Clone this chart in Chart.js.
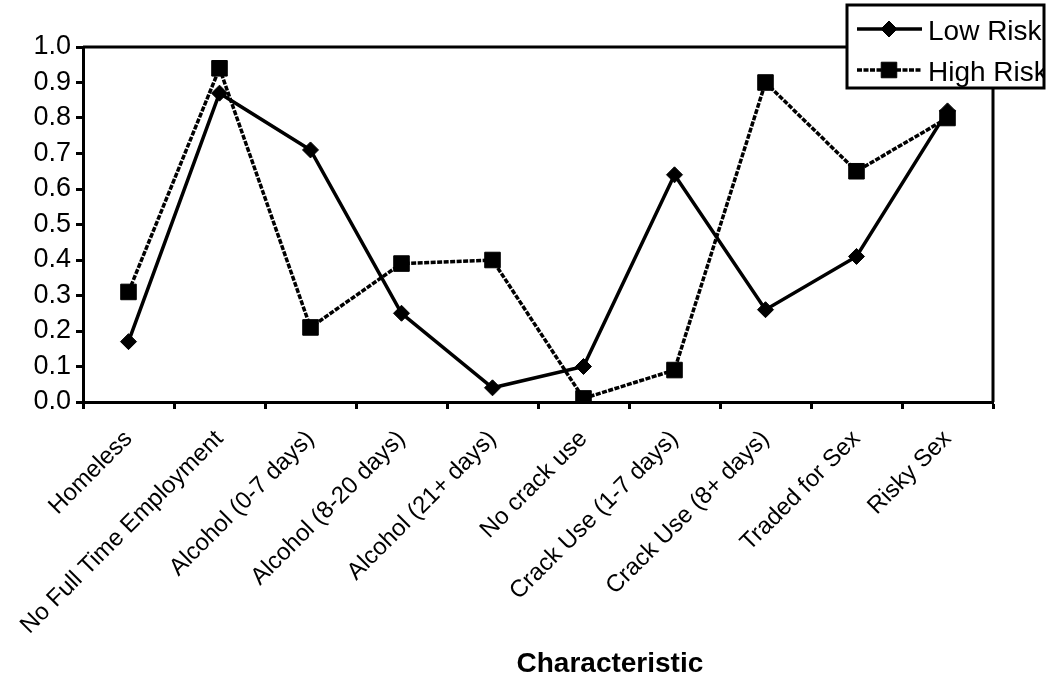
<!DOCTYPE html>
<html>
<head>
<meta charset="utf-8">
<script src="https://cdn.jsdelivr.net/npm/chart.js@4/dist/chart.umd.min.js"></script>
<style>
  html, body { margin: 0; padding: 0; background: #fff; }
  #wrap { position: relative; width: 1050px; height: 682px; }
</style>
</head>
<body>
<div id="wrap"><canvas id="c" width="1050" height="682"></canvas></div>
<script>
const categories = [
  "Homeless",
  "No Full Time Employment",
  "Alcohol (0-7 days)",
  "Alcohol (8-20 days)",
  "Alcohol (21+ days)",
  "No crack use",
  "Crack Use (1-7 days)",
  "Crack Use (8+ days)",
  "Traded for Sex",
  "Risky Sex"
];
const lowRisk  = [0.17, 0.87, 0.71, 0.25, 0.04, 0.10, 0.64, 0.26, 0.41, 0.82];
const highRisk = [0.31, 0.94, 0.21, 0.39, 0.40, 0.01, 0.09, 0.90, 0.65, 0.80];
const seriesNames = ["Low Risk", "High Risk"];
const yTicks = [0.0, 0.1, 0.2, 0.3, 0.4, 0.5, 0.6, 0.7, 0.8, 0.9, 1.0];
const xTitle = "Characteristic";

const FONT = "'Liberation Sans', Arial, sans-serif";

const frame = {
  id: 'frame',
  afterDatasetsDraw(chart) {
    const a = chart.chartArea, ctx = chart.ctx;
    ctx.save();
    ctx.strokeStyle = '#000';
    ctx.lineWidth = 3;
    ctx.beginPath();
    ctx.moveTo(a.left, a.top);
    ctx.lineTo(a.right, a.top);
    ctx.lineTo(a.right, a.bottom);
    ctx.stroke();
    ctx.restore();
  },
  afterDraw(chart) {
    const ctx = chart.ctx, a = chart.chartArea;
    ctx.save();
    ctx.fillStyle = '#000';
    ctx.font = "bold 28px " + FONT;
    ctx.textAlign = 'center';
    ctx.textBaseline = 'alphabetic';
    ctx.fillText(xTitle, a.left + (a.right - a.left) * 0.579, 672);
    ctx.restore();

    const bx = 847, by = 5, bw = 197, bh = 83;
    ctx.save();
    ctx.fillStyle = '#fff';
    ctx.fillRect(bx, by, bw, bh);
    ctx.beginPath();
    ctx.rect(bx, by, bw, bh);
    ctx.clip();
    const rows = [29, 70];
    chart.data.datasets.forEach((ds, i) => {
      const y = rows[i];
      ctx.save();
      ctx.strokeStyle = '#000';
      ctx.lineWidth = 3.5;
      ctx.setLineDash(ds.borderDash || []);
      ctx.beginPath();
      ctx.moveTo(857, y);
      ctx.lineTo(922, y);
      ctx.stroke();
      ctx.setLineDash([]);
      ctx.fillStyle = '#000';
      ctx.strokeStyle = '#000';
      ctx.lineWidth = 1;
      Chart.helpers.drawPoint(ctx, {pointStyle: ds.pointStyle, radius: ds.pointRadius, borderWidth: 1}, 889, y);
      ctx.restore();
      ctx.fillStyle = '#000';
      ctx.font = "28px " + FONT;
      ctx.textAlign = 'left';
      ctx.textBaseline = 'middle';
      ctx.fillText(ds.label, 928, y + 3);
    });
    ctx.restore();
    ctx.save();
    ctx.strokeStyle = '#000';
    ctx.lineWidth = 3;
    ctx.strokeRect(bx, by, bw, bh);
    ctx.restore();
  }
};

new Chart(document.getElementById('c'), {
  type: 'line',
  data: {
    labels: categories,
    datasets: [
      {
        label: seriesNames[0],
        data: lowRisk,
        borderColor: '#000',
        backgroundColor: '#000',
        borderWidth: 3.5,
        pointStyle: 'rectRot',
        pointRadius: 8,
        pointBorderWidth: 1,
        tension: 0
      },
      {
        label: seriesNames[1],
        data: highRisk,
        borderColor: '#000',
        backgroundColor: '#000',
        borderWidth: 3.5,
        borderDash: [5, 1.5],
        pointStyle: 'rect',
        pointRadius: 11,
        pointBorderWidth: 1,
        tension: 0
      }
    ]
  },
  options: {
    responsive: false,
    animation: false,
    devicePixelRatio: 1,
    layout: { padding: { top: 47, right: 57, left: 0, bottom: 0 } },
    plugins: {
      legend: { display: false },
      tooltip: { enabled: false }
    },
    scales: {
      x: {
        type: 'category',
        offset: true,
        grid: {
          display: true,
          offset: true,
          drawOnChartArea: false,
          drawTicks: true,
          tickLength: 7,
          tickWidth: 3,
          tickColor: '#000',
          color: '#000'
        },
        border: { display: true, color: '#000', width: 3 },
        ticks: {
          color: '#000',
          font: { family: FONT, size: 24 },
          minRotation: 45,
          maxRotation: 45,
          autoSkip: false,
          padding: 16
        },
        afterFit(scale) { scale.height = 280; }
      },
      y: {
        min: 0,
        max: 1,
        afterBuildTicks(scale) { scale.ticks = yTicks.map(v => ({ value: v })); },
        grid: {
          display: true,
          drawOnChartArea: false,
          drawTicks: true,
          tickLength: 7,
          tickWidth: 3,
          tickColor: '#000',
          color: '#000'
        },
        border: { display: true, color: '#000', width: 3 },
        ticks: {
          color: '#000',
          font: { family: FONT, size: 27 },
          padding: 5,
          callback: v => Number(v).toFixed(1)
        },
        afterFit(scale) { scale.width = 83; }
      }
    }
  },
  plugins: [frame]
});
</script>
</body>
</html>
